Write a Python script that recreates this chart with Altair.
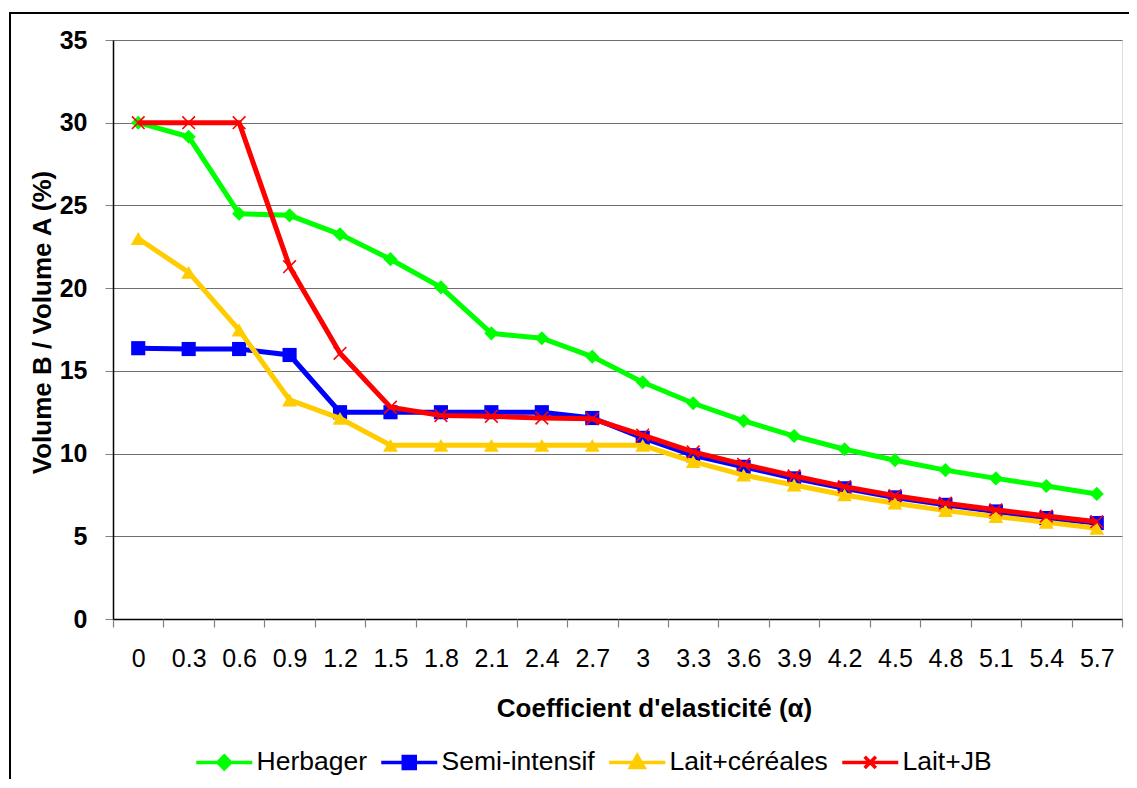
import altair as alt
import pandas as pd

categories = ["0", "0.3", "0.6", "0.9", "1.2", "1.5", "1.8", "2.1", "2.4", "2.7",
              "3", "3.3", "3.6", "3.9", "4.2", "4.5", "4.8", "5.1", "5.4", "5.7"]
series_names = ["Herbager", "Semi-intensif", "Lait+céréales", "Lait+JB"]
herbager = [30.0, 29.15, 24.5, 24.4, 23.25, 21.75, 20.05, 17.27, 16.97, 15.86,
            14.31, 13.04, 11.98, 11.06, 10.26, 9.6, 9.0, 8.5, 8.04, 7.56]
semi_intensif = [16.37, 16.32, 16.32, 15.96, 12.5, 12.5, 12.5, 12.5, 12.5, 12.15,
                 10.95, 9.9, 9.2, 8.5, 7.9, 7.35, 6.9, 6.5, 6.1, 5.8]
lait_cereales = [23.0, 20.95, 17.47, 13.24, 12.13, 10.5, 10.5, 10.5, 10.5, 10.5,
                 10.5, 9.51, 8.7, 8.1, 7.5, 7.0, 6.55, 6.19, 5.85, 5.48]
lait_jb = [30.0, 30.0, 30.0, 21.3, 16.06, 12.8, 12.3, 12.25, 12.15, 12.1,
           11.12, 10.1, 9.35, 8.65, 8.0, 7.45, 7.0, 6.6, 6.22, 5.88]

colors = ["#00FF00", "#0000FF", "#FFCC00", "#FF0000"]
marker_shapes = ["diamond", "square", "triangle-up", "M-1,-1L1,1M-1,1L1,-1"]
marker_sizes = [200, 200, 220, 160]
legend_paths = [
    "M-7,0L7,0M0,-1.6L1.6,0L0,1.6L-1.6,0Z",
    "M-7,0L7,0M-1.5,-1.5L1.5,-1.5L1.5,1.5L-1.5,1.5Z",
    "M-7,0L7,0M0,-1.7L1.7,1.3L-1.7,1.3Z",
    "M-7,0L7,0M-1.4,-1.4L1.4,1.4M-1.4,1.4L1.4,-1.4",
]

values = [herbager, semi_intensif, lait_cereales, lait_jb]
rows = []
for name, vals in zip(series_names, values):
    for i, (c, v) in enumerate(zip(categories, vals)):
        rows.append({"series": name, "alpha": c, "idx": i, "value": v})
df = pd.DataFrame(rows)

FONT = "Liberation Sans"

x_enc = alt.X(
    "alpha:O",
    sort=categories,
    scale=alt.Scale(type="point", padding=0.5),
    axis=alt.Axis(
        orient="bottom", title="Coefficient d'elasticité (α)", ticks=False,
        domainColor="black", domainWidth=1.5, labelAngle=0, labelFontSize=25,
        labelFont=FONT, labelColor="black", labelPadding=27, grid=False,
        titleFontSize=26, titleFont=FONT, titleFontWeight="bold", titleColor="black",
        titleX=541, titleY=76,
    ),
)
y_enc = alt.Y(
    "value:Q",
    scale=alt.Scale(domain=[0, 35], nice=False, zero=True),
    axis=alt.Axis(
        values=[0, 5, 10, 15, 20, 25, 30, 35], title="Volume B / Volume A (%)",
        domainColor="black", domainWidth=1.5, tickColor="#808080", tickSize=8,
        gridColor="#6e6e6e", gridWidth=1.2, labelFontSize=25, labelFont=FONT,
        labelFontWeight="bold", labelColor="black", labelPadding=18,
        titleFontSize=26, titleFont=FONT, titleFontWeight="bold", titleColor="black",
        titlePadding=4, titleY=282,
    ),
)


def make_legend():
    return alt.Legend(
        title=None, orient="none", legendX=98, legendY=709, direction="horizontal",
        labelFontSize=26.5, labelFont=FONT, labelColor="black", symbolSize=64,
        symbolStrokeWidth=3.5, symbolOpacity=1, labelOffset=19, columnPadding=7,
        padding=0, rowPadding=0, labelLimit=300,
    )


base = alt.Chart(df)
layers = []
for name, col, shp, sz in zip(series_names, colors, marker_shapes, marker_sizes):
    sub = base.transform_filter(alt.datum.series == name)
    layers.append(sub.mark_line(color=col, strokeWidth=5).encode(x=x_enc, y=y_enc))
    if shp.startswith("M"):
        pm = sub.mark_point(shape=shp, filled=False, color=col, strokeWidth=1.6,
                            size=sz, opacity=1)
    else:
        pm = sub.mark_point(shape=shp, filled=True, color=col, size=sz, opacity=1)
    layers.append(pm.encode(x=x_enc, y=y_enc))

legend_layer = base.mark_point(opacity=0).encode(
    x=x_enc, y=y_enc,
    fill=alt.Fill("series:N", scale=alt.Scale(domain=series_names, range=colors),
                  legend=make_legend()),
    stroke=alt.Stroke("series:N", scale=alt.Scale(domain=series_names, range=colors),
                      legend=make_legend()),
    shape=alt.Shape("series:N", scale=alt.Scale(domain=series_names, range=legend_paths),
                    legend=make_legend()),
)

data_layers = alt.layer(*layers, legend_layer)

tick_layer = alt.Chart(df).mark_point(opacity=0).encode(
    x=alt.X("idx:Q", scale=alt.Scale(domain=[0, len(categories)], nice=False, zero=False),
            axis=alt.Axis(orient="bottom", values=list(range(len(categories) + 1)),
                          labels=False, domain=False, grid=False, title=None,
                          tickColor="#808080", tickSize=8, tickWidth=1.2)),
)

frame = alt.Chart(pd.DataFrame({"f": [0]})).mark_rect(
    filled=False, stroke="black", strokeWidth=2
).encode(x=alt.value(-103), x2=alt.value(1100), y=alt.value(-27), y2=alt.value(800))

chart = alt.layer(frame, data_layers, tick_layer).resolve_scale(
    x="independent"
).resolve_axis(x="independent").properties(
    width=1009, height=579,
    autosize=alt.AutoSizeParams(type="none"),
    padding={"left": 105, "top": 32, "right": 7, "bottom": 160},
).configure_view(stroke=None).configure(font=FONT, background="white")

chart.save("out.html", embed_options={"renderer": "svg", "actions": False})
